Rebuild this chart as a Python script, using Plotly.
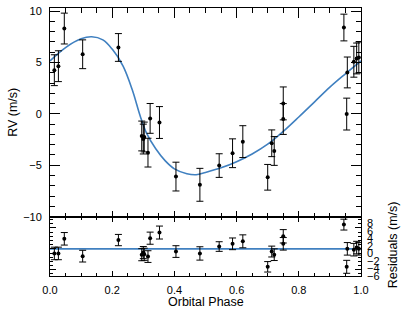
import plotly.graph_objects as go

# ---- data ----
phase = [0.014, 0.027, 0.046, 0.105, 0.220, 0.295, 0.300, 0.303, 0.315, 0.322,
         0.352, 0.405, 0.482, 0.544, 0.587, 0.620, 0.700, 0.713, 0.721, 0.750,
         0.750, 0.945, 0.956, 0.954, 0.977, 0.986, 0.993]
rv = [4.25, 4.64, 8.3, 5.8, 6.46, -2.15, -2.45, -2.25, -3.77, -0.44,
      -0.84, -6.1, -6.9, -5.03, -3.83, -2.7, -6.17, -2.86, -3.61, 1.02,
      -0.5, 8.4, 4.03, -0.02, 5.07, 5.39, 5.49]
rv_err = [1.5, 1.5, 1.5, 1.4, 1.35, 1.45, 1.45, 1.45, 1.4, 1.45,
          1.55, 1.4, 1.6, 1.15, 1.4, 1.55, 1.25, 1.3, 1.4, 1.6,
          1.5, 1.3, 1.5, 1.55, 1.5, 1.5, 1.5]
residuals = [-1.1, -1.1, 2.4, -1.75, 2.1, -1.4, -0.9, -1.3, -1.85, 2.55,
             3.9, -0.65, -1.1, 0.55, 1.2, 1.8, -4.3, -0.65, -1.4, 3.0,
             1.2, 5.8, 0.0, -4.3, -0.2, 0.3, 0.0]

model_phase = [0.0, 0.05, 0.1, 0.134, 0.17, 0.2, 0.235, 0.265, 0.29, 0.31,
               0.34, 0.37, 0.4, 0.44, 0.47, 0.5, 0.55, 0.6, 0.65, 0.7,
               0.75, 0.8, 0.85, 0.9, 0.95, 1.0]
model_rv = [5.15, 6.45, 7.3, 7.5, 7.2, 6.3, 4.65, 2.3, -0.2, -1.85,
            -3.4, -4.55, -5.35, -5.82, -5.92, -5.7, -5.25, -4.65, -3.9, -2.95,
            -1.7, -0.3, 1.15, 2.6, 3.9, 5.15]

resid_model_phase = [0.0, 1.0]
resid_model = [0.0, 0.0]

x_ticks = [0.0, 0.2, 0.4, 0.6, 0.8, 1.0]

# ---- styling ----
FONT = "Liberation Sans, Arial, Helvetica, sans-serif"
BLUE = "#4080c0"
W, H = 415, 312
ML, MR, MT, MB = 50, 54, 5, 36
PH = H - MT - MB
split = 60 / PH

fig = go.Figure()

err_style = dict(type="data", thickness=1, width=3.5, color="black")

fig.add_trace(go.Scatter(x=model_phase, y=model_rv, mode="lines",
                         line=dict(color=BLUE, width=1.6, shape="spline", smoothing=1.0),
                         xaxis="x", yaxis="y", showlegend=False, hoverinfo="skip"))
fig.add_trace(go.Scatter(x=phase, y=rv, mode="markers",
                         marker=dict(color="black", size=4),
                         error_y=dict(array=rv_err, **err_style),
                         xaxis="x", yaxis="y", showlegend=False))

fig.add_trace(go.Scatter(x=resid_model_phase, y=resid_model, mode="lines",
                         line=dict(color=BLUE, width=1.6),
                         xaxis="x2", yaxis="y2", showlegend=False, hoverinfo="skip"))
fig.add_trace(go.Scatter(x=phase, y=residuals, mode="markers",
                         marker=dict(color="black", size=4),
                         error_y=dict(array=rv_err, **err_style),
                         xaxis="x2", yaxis="y2", showlegend=False))

# helper empty traces so overlay axes get drawn
fig.add_trace(go.Scatter(x=[], y=[], xaxis="x3", yaxis="y", showlegend=False))
fig.add_trace(go.Scatter(x=[], y=[], xaxis="x2", yaxis="y3", showlegend=False))

axcommon = dict(showgrid=False, zeroline=False, showline=True, linecolor="black",
                linewidth=1, ticks="inside", tickcolor="black", tickwidth=1,
                tickfont=dict(family=FONT, size=11, color="black"))

fig.update_layout(
    width=W, height=H,
    margin=dict(l=ML, r=MR, t=MT, b=MB, pad=0),
    paper_bgcolor="white", plot_bgcolor="white",
    font=dict(family=FONT, size=11, color="black"),
    xaxis=dict(**axcommon, domain=[0, 1], anchor="y", range=[0, 1],
               tickvals=x_ticks, ticklen=6, showticklabels=False,
               minor=dict(dtick=0.05, ticklen=3.5, ticks="inside", tickcolor="black")),
    xaxis3=dict(**axcommon, overlaying="x", side="top", anchor="y", range=[0, 1],
                tickvals=x_ticks, ticklen=10, showticklabels=False,
                minor=dict(dtick=0.05, ticklen=5, ticks="inside", tickcolor="black")),
    yaxis=dict(**axcommon, domain=[split, 1], anchor="x", range=[-10, 10.3],
               tick0=0, dtick=5, ticklen=10, mirror="ticks", ticklabelstandoff=5,
               minor=dict(dtick=1, ticklen=5, ticks="inside", tickcolor="black")),
    xaxis2=dict(**axcommon, domain=[0, 1], anchor="y2", range=[0, 1],
                tickvals=x_ticks, ticktext=[f"{v:.1f}" for v in x_ticks],
                ticklen=5, mirror="ticks", ticklabelstandoff=4,
                minor=dict(dtick=0.05, ticklen=3, ticks="inside", tickcolor="black")),
    yaxis2=dict(**axcommon, domain=[0, split], anchor="x2", range=[-6.5, 7.7],
                tick0=0, dtick=5, ticklen=6, mirror="ticks", showticklabels=False,
                minor=dict(dtick=1, ticklen=3, ticks="inside", tickcolor="black")),
    yaxis3=dict(showgrid=False, zeroline=False, showline=False, overlaying="y2",
                side="right", anchor="x2", range=[-6.05, 9.8], tick0=0, dtick=2,
                ticks="", ticklabelstandoff=5,
                tickfont=dict(family=FONT, size=11, color="black")),
    annotations=[
        dict(text="RV (m/s)", xref="paper", yref="paper",
             x=(13.5 - ML) / (W - ML - MR), y=(H - MB - 110.5) / PH,
             textangle=-90, showarrow=False, xanchor="center", yanchor="middle",
             font=dict(family=FONT, size=12.5, color="black")),
        dict(text="Residuals (m/s)", xref="paper", yref="paper",
             x=(392.5 - ML) / (W - ML - MR), y=(H - MB - 244.5) / PH,
             textangle=-90, showarrow=False, xanchor="center", yanchor="middle",
             font=dict(family=FONT, size=12.5, color="black")),
        dict(text="Orbital Phase", xref="paper", yref="paper",
             x=0.5, y=(H - MB - 302) / PH,
             showarrow=False, xanchor="center", yanchor="middle",
             font=dict(family=FONT, size=12.5, color="black")),
    ],
)

fig.write_html(
    "out.html",
    config={"displayModeBar": False},
    post_script="document.body.style.margin='0';document.body.style.padding='0';",
)
